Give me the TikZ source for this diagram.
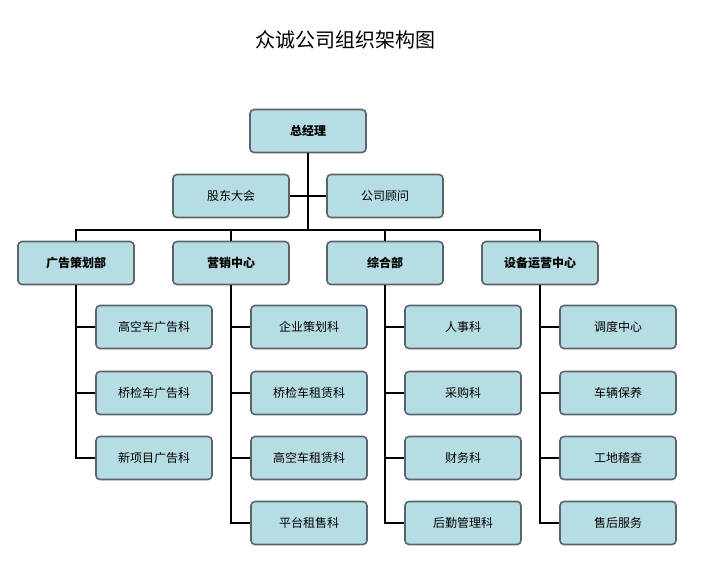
\documentclass[tikz,border=0pt]{standalone}
\usepackage{fontspec}
\setmainfont{Noto Sans CJK SC}
\usetikzlibrary{positioning}
\definecolor{boxColor}{RGB}{183,221,228}
\definecolor{edgeColor}{RGB}{90,100,105}
\tikzset{unit/.append style={fill=boxColor, draw=edgeColor, align=center, minimum width=116pt, minimum height=43pt, rounded corners=4pt, font=\fontsize{12}{14}\selectfont}}
\tikzset{head/.append style={unit, font=\fontsize{12}{14}\selectfont\bfseries}}
\begin{document}
\begin{tikzpicture}[x=1pt, y=-1pt, line width=1.6pt]
    \useasboundingbox (0,0) rectangle (706,574);

    % Title
    \node (title) at (345,40) {\fontsize{20}{24}\selectfont 众诚公司组织架构图};

    % Nodes
    \node (gm) [head] at (308,131) {总经理};
    \node (board) [unit] at (231,196) {股东大会};
    \node (advisor) [unit] at (385,196) {公司顾问};

    \node (ad) [head] at (76,263) {广告策划部};
    \node (sales) [head] at (231,263) {营销中心};
    \node (general) [head] at (385,263) {综合部};
    \node (ops) [head] at (540,263) {设备运营中心};

    \node (ad1) [unit] at (154,327) {高空车广告科};
    \node (ad2) [unit] at (154,393) {桥检车广告科};
    \node (ad3) [unit] at (154,458) {新项目广告科};

    \node (sa1) [unit] at (309,327) {企业策划科};
    \node (sa2) [unit] at (309,393) {桥检车租赁科};
    \node (sa3) [unit] at (309,458) {高空车租赁科};
    \node (sa4) [unit] at (309,523) {平台租售科};

    \node (ge1) [unit] at (463,327) {人事科};
    \node (ge2) [unit] at (463,393) {采购科};
    \node (ge3) [unit] at (463,458) {财务科};
    \node (ge4) [unit] at (463,523) {后勤管理科};

    \node (op1) [unit] at (618,327) {调度中心};
    \node (op2) [unit] at (618,393) {车辆保养};
    \node (op3) [unit] at (618,458) {工地稽查};
    \node (op4) [unit] at (618,523) {售后服务};

    % Connectors
    \coordinate (bus) at (308,230);
    \draw (gm) -- (bus);
    \draw (board) -- (advisor);
    \draw (ad.north) |- (bus) -| (ops.north);
    \draw (sales.north) -- (sales.north |- bus);
    \draw (general.north) -- (general.north |- bus);

    \draw (ad.south) |- (ad3.west);
    \draw (ad.south |- ad1) -- (ad1.west);
    \draw (ad.south |- ad2) -- (ad2.west);

    \draw (sales.south) |- (sa4.west);
    \draw (sales.south |- sa1) -- (sa1.west);
    \draw (sales.south |- sa2) -- (sa2.west);
    \draw (sales.south |- sa3) -- (sa3.west);

    \draw (general.south) |- (ge4.west);
    \draw (general.south |- ge1) -- (ge1.west);
    \draw (general.south |- ge2) -- (ge2.west);
    \draw (general.south |- ge3) -- (ge3.west);

    \draw (ops.south) |- (op4.west);
    \draw (ops.south |- op1) -- (op1.west);
    \draw (ops.south |- op2) -- (op2.west);
    \draw (ops.south |- op3) -- (op3.west);

\end{tikzpicture}
\end{document}
